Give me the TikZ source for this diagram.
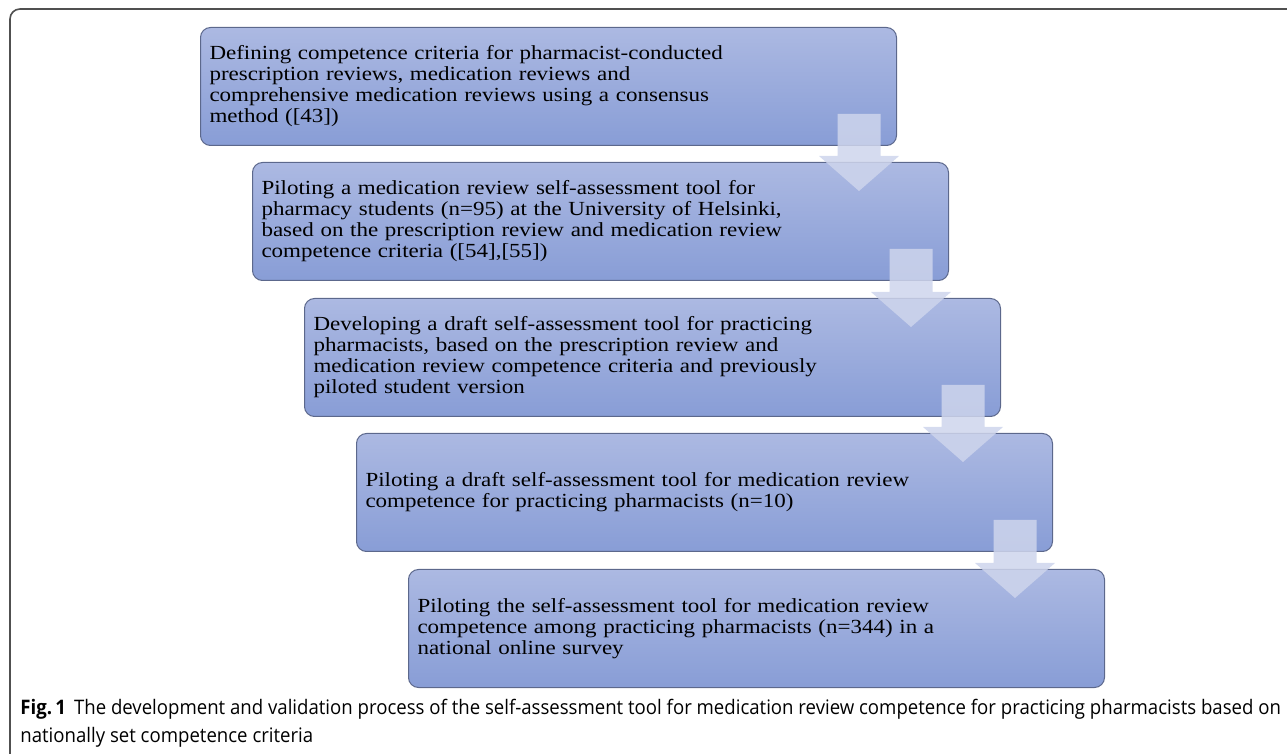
\documentclass[tikz,border=0pt]{standalone}
\usepackage{fontspec}
\setmainfont{Liberation Serif}[FakeStretch=1.15]
\newfontfamily\capfont{Open Sans}[FakeStretch=0.93]
\usetikzlibrary{calc}
\definecolor{boxtop}{RGB}{172,185,226}
\definecolor{boxbot}{RGB}{136,157,214}
\definecolor{boxline}{RGB}{92,104,140}
\definecolor{arrowfill}{RGB}{206,213,236}
\definecolor{framegray}{RGB}{80,80,80}
\tikzset{stepbox/.style={draw=boxline, line width=0.5pt, rounded corners=5pt, top color=boxtop, bottom color=boxbot, minimum width=348pt, minimum height=59pt, inner xsep=4.5pt, text width=339pt, align=left, anchor=north west, font=\fontsize{10}{10.5}\selectfont}}
\def\steparrow(#1)(#2){\coordinate (st) at ($(#1.south east)+(-38,-32)$); \coordinate (tp) at ($(#2.north east)+(-90,29)$); \fill[arrowfill, opacity=0.85] ($(st)+(-21.5,0)$) -- ($(st)+(21.5,0)$) -- ($(tp)+(21.5,-35)$) -- ($(tp)+(40,-35)$) -- (tp) -- ($(tp)+(-40,-35)$) -- ($(tp)+(-21.5,-35)$) -- cycle;}

\begin{document}
\begin{tikzpicture}[x=0.5pt, y=-0.5pt]
		%%%%% START %%%%%
		\useasboundingbox (0,0) rectangle (1287,754);
		\draw[framegray, line width=0.8pt, rounded corners=5pt] (1287,9) -- (10,9) -- (10,754);
		
		\node[stepbox] (def) at (200,27) {Defining competence criteria for pharmacist-conducted\\prescription reviews, medication reviews and\\comprehensive medication reviews using a consensus\\method ([43])};
		\node[stepbox] (pilotstud) at (252,162) {Piloting a medication review self-assessment tool for\\pharmacy students (n=95) at the University of Helsinki,\\based on the prescription review and medication review\\competence criteria ([54],[55])};
		\node[stepbox] (draft) at (304,298) {Developing a draft self-assessment tool for practicing\\pharmacists, based on the prescription review and\\medication review competence criteria and previously\\piloted student version};
		\node[stepbox] (pilotdraft) at (356,433) {Piloting a draft self-assessment tool for medication review\\competence for practicing pharmacists (n=10)};
		\node[stepbox] (survey) at (408,569) {Piloting the self-assessment tool for medication review\\competence among practicing pharmacists (n=344) in a\\national online survey};
		
		\steparrow(def)(pilotstud);
		\steparrow(pilotstud)(draft);
		\steparrow(draft)(pilotdraft);
		\steparrow(pilotdraft)(survey);
		
		\node[anchor=base west, align=left, inner sep=0pt, font=\capfont\fontsize{10}{14}\selectfont] (caption) at (20,742) {\textbf{Fig.\,1}\hspace{4pt}The development and validation process of the self-assessment tool for medication review competence for practicing pharmacists based on\\nationally set competence criteria};
		%%%%% END %%%%%
	\end{tikzpicture}
\end{document}
